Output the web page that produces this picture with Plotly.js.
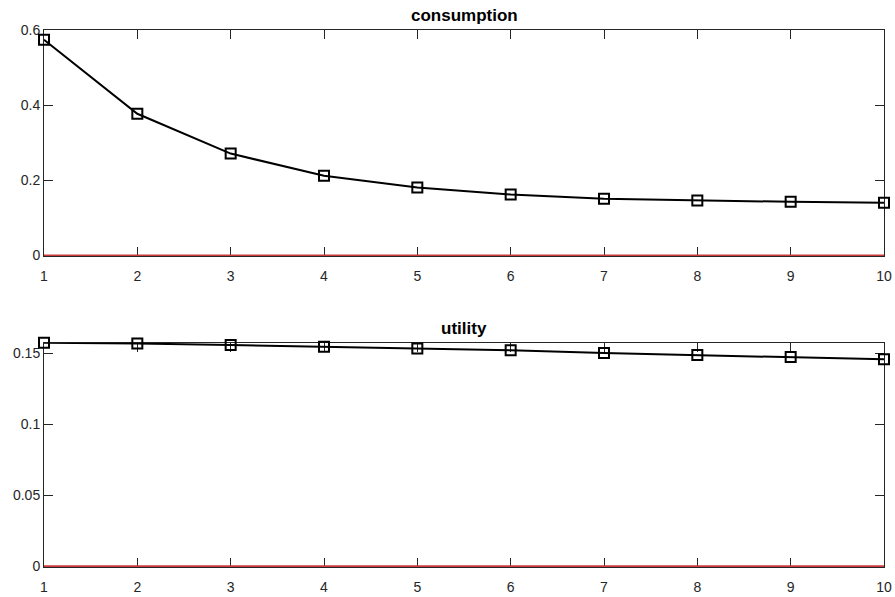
<!DOCTYPE html>
<html>
<head>
<meta charset="utf-8">
<script src="https://cdn.plot.ly/plotly-3.0.1.min.js"></script>
<style>html,body{margin:0;padding:0;background:#fff;}#chart{width:895px;height:597px;}</style>
</head>
<body>
<div id="chart"></div>
<script>
const periods = [1, 2, 3, 4, 5, 6, 7, 8, 9, 10];
const consumption = [0.574, 0.377, 0.271, 0.212, 0.181, 0.162, 0.151, 0.146, 0.1426, 0.140];
const utility = [0.1573, 0.1568, 0.1557, 0.1545, 0.1532, 0.1520, 0.1500, 0.1487, 0.1473, 0.1456];
const steadyState = [0, 0, 0, 0, 0, 0, 0, 0, 0, 0];
const titles = ["consumption", "utility"];

const axisColor = "#262626";
const lineStyle = {color: "#000000", width: 2};
const markerStyle = {symbol: "square-open", size: 10, color: "#000000", line: {width: 2, color: "#000000"}};
const redLine = {color: "#cc3a3a", width: 2};

const traces = [
  {x: periods, y: steadyState, xaxis: "x", yaxis: "y", mode: "lines", line: redLine, hoverinfo: "none", cliponaxis: false},
  {x: periods, y: consumption, xaxis: "x", yaxis: "y", mode: "lines+markers", line: lineStyle, marker: markerStyle, cliponaxis: false},
  {x: periods, y: steadyState, xaxis: "x2", yaxis: "y2", mode: "lines", line: redLine, hoverinfo: "none", cliponaxis: false},
  {x: periods, y: utility, xaxis: "x2", yaxis: "y2", mode: "lines+markers", line: lineStyle, marker: markerStyle, cliponaxis: false}
];

const xCommon = {
  range: [1, 10], tickvals: periods, ticks: "inside", ticklen: 9, tickcolor: axisColor,
  showline: true, linecolor: axisColor, linewidth: 1, mirror: "ticks", showgrid: false, zeroline: false,
  layer: "below traces", ticklabelstandoff: 7,
  tickfont: {family: "Liberation Sans, Arial, sans-serif", size: 14, color: axisColor}
};
const yCommon = {
  ticks: "inside", ticklen: 9, tickcolor: axisColor,
  showline: true, linecolor: axisColor, linewidth: 1, mirror: "ticks", showgrid: false, zeroline: false,
  layer: "below traces",
  tickfont: {family: "Liberation Sans, Arial, sans-serif", size: 14, color: axisColor}
};

const layout = {
  width: 895, height: 597,
  margin: {l: 44, r: 11, t: 30, b: 30},
  showlegend: false,
  paper_bgcolor: "#ffffff", plot_bgcolor: "#ffffff",
  xaxis: Object.assign({}, xCommon, {domain: [0, 1], anchor: "y"}),
  yaxis: Object.assign({}, yCommon, {domain: [0.579, 1], range: [-0.0018, 0.6], tickvals: [0, 0.2, 0.4, 0.6], ticktext: ["0", "0.2", "0.4", "0.6"], anchor: "x"}),
  xaxis2: Object.assign({}, xCommon, {domain: [0, 1], anchor: "y2"}),
  yaxis2: Object.assign({}, yCommon, {domain: [0, 0.4177], range: [-0.0005, 0.1573], tickvals: [0, 0.05, 0.1, 0.15], ticktext: ["0", "0.05", "0.1", "0.15"], anchor: "x2"}),
  annotations: [
    {text: "<b>" + titles[0] + "</b>", xref: "paper", yref: "paper", x: 0.5, y: 1, yshift: 3, xanchor: "center", yanchor: "bottom", showarrow: false,
     font: {family: "Liberation Sans, Arial, sans-serif", size: 17, color: "#000"}},
    {text: "<b>" + titles[1] + "</b>", xref: "paper", yref: "paper", x: 0.5, y: 0.4177, yshift: 3, xanchor: "center", yanchor: "bottom", showarrow: false,
     font: {family: "Liberation Sans, Arial, sans-serif", size: 17, color: "#000"}}
  ]
};

Plotly.newPlot("chart", traces, layout, {displayModeBar: false, staticPlot: true});
</script>
</body>
</html>
